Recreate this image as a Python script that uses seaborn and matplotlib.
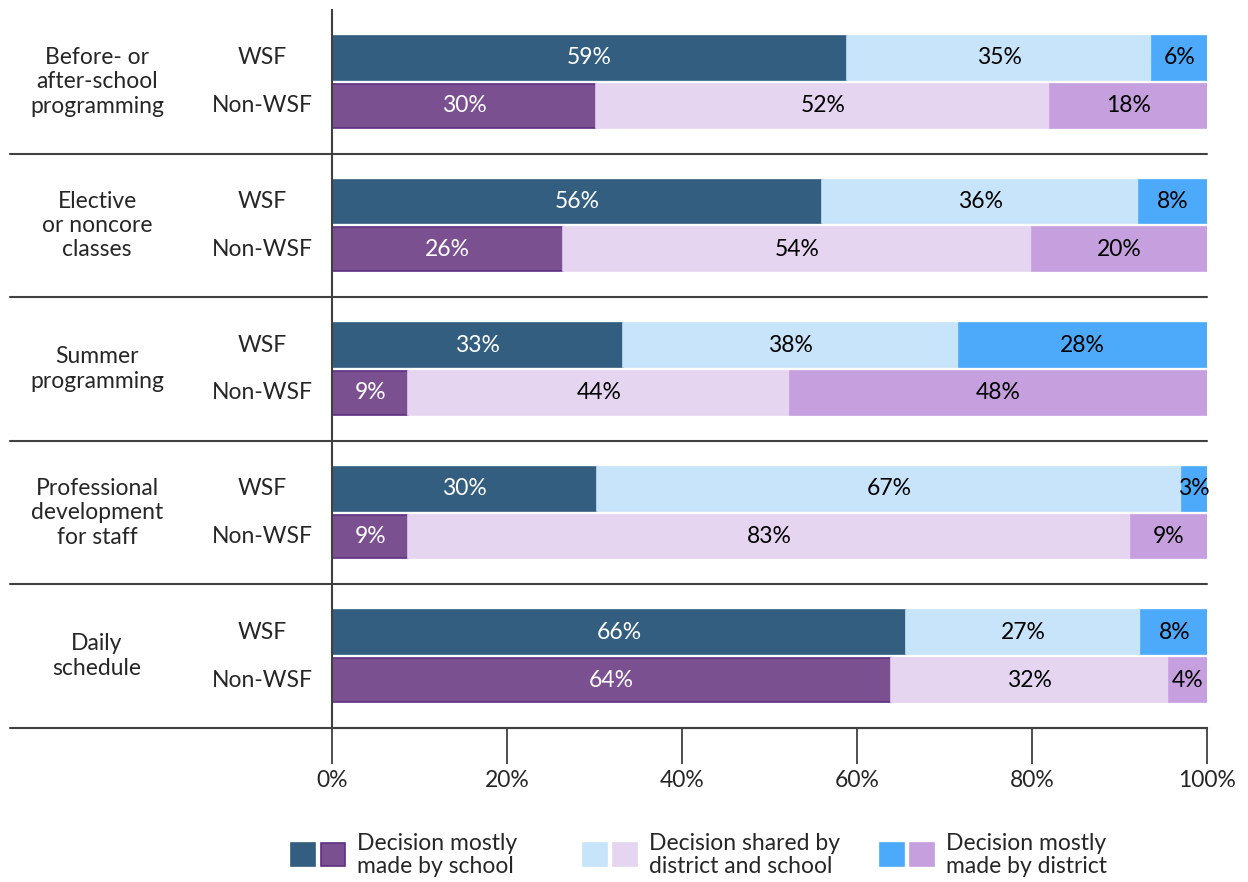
import numpy as np
import matplotlib
matplotlib.use("Agg")
import matplotlib.pyplot as plt
import matplotlib.transforms as mtransforms
from matplotlib.patches import Rectangle
import seaborn as sns

# data (percent of schools)
categories = ["Before- or\nafter-school\nprogramming",
              "Elective\nor noncore\nclasses",
              "Summer\nprogramming",
              "Professional\ndevelopment\nfor staff",
              "Daily\nschedule"]
groups = ["WSF", "Non-WSF"]
legend_labels = ["Decision mostly\nmade by school",
                 "Decision shared by\ndistrict and school",
                 "Decision mostly\nmade by district"]

wsf_school = [58.9, 56.0, 33.2, 30.3, 65.6]
wsf_shared = [34.8, 36.2, 38.4, 66.8, 26.9]
wsf_district = [6.3, 7.8, 28.4, 2.9, 7.5]

non_school = [30.2, 26.4, 8.7, 8.7, 63.9]
non_shared = [51.8, 53.6, 43.6, 82.6, 31.7]
non_district = [18.0, 20.0, 47.7, 8.7, 4.4]

xticks = [0, 20, 40, 60, 80, 100]

# styles
wsf_colors = ["#335e80", "#c8e4fa", "#4daafa"]
non_colors = ["#7a5091", "#e5d5f0", "#c6a0de"]
non_edges = ["#5e2f82", "#e5d5f0", "#c6a0de"]
wsf_text = ["white", "black", "black"]
non_text = ["white", "black", "black"]

sns.set_style("white")
plt.rcParams["font.family"] = ["Lato", "DejaVu Sans"]
FS = 16.5

fig = plt.figure(figsize=(12.48, 8.82), dpi=100)
ax = fig.add_axes([332 / 1248, 1 - 728 / 882, 875 / 1248, 718 / 882])

n = len(categories)
bar_h = 0.305
series = [
    (1 / 3, [wsf_school, wsf_shared, wsf_district], wsf_colors, wsf_colors, wsf_text),
    (2 / 3, [non_school, non_shared, non_district], non_colors, non_edges, non_text),
]

for off, segs, cols, edges, tcols in series:
    y = np.arange(n) + off
    left = np.zeros(n)
    for vals, c, e, tc in zip(segs, cols, edges, tcols):
        vals = np.array(vals)
        ax.barh(y, vals, left=left, height=bar_h, color=c, edgecolor=e,
                linewidth=1.2)
        for yi, li, vi in zip(y, left, vals):
            ax.text(li + vi / 2, yi, f"{vi:.0f}%", ha="center", va="center",
                    color=tc, fontsize=FS)
        left = left + vals

ax.set_xlim(0, 100)
ax.set_ylim(n, 0)
ax.set_yticks([])
ax.set_xticks(xticks)
ax.set_xticklabels([f"{t}%" for t in xticks], fontsize=FS)
ax.tick_params(axis="x", bottom=True, direction="out", length=26, width=1.3,
               color="#404040", pad=4)

for s in ["top", "right"]:
    ax.spines[s].set_visible(False)
ax.spines["left"].set_color("#404040")
ax.spines["left"].set_linewidth(1.5)
ax.spines["bottom"].set_color("#404040")
ax.spines["bottom"].set_linewidth(1.5)

# separator lines across labels and plot
trans = mtransforms.blended_transform_factory(fig.transFigure, ax.transData)
x_left = 10 / 1248
x_right = 1207 / 1248
for g in range(1, n + 1):
    ax.plot([x_left, x_right], [g, g], transform=trans, color="#404040",
            linewidth=1.5, clip_on=False)

# row labels
for i, cat in enumerate(categories):
    ax.text(97 / 1248, i + 0.5, cat, transform=trans, ha="center",
            va="center", fontsize=FS, linespacing=1.2)
    for j, gname in enumerate(groups):
        ax.text(262 / 1248, i + (j + 1) / 3, gname, transform=trans,
                ha="center", va="center", fontsize=FS)

# legend
leg_x = [291, 583, 880]
sq_w, sq_h, gap = 24, 23, 6
for k, lab in enumerate(legend_labels):
    x0 = leg_x[k]
    for m, col in enumerate([wsf_colors[k], non_colors[k]]):
        ec = non_edges[0] if (k == 0 and m == 1) else col
        fig.patches.append(Rectangle(((x0 + m * (sq_w + gap)) / 1248, 1 - 866 / 882),
                                     sq_w / 1248, sq_h / 882,
                                     transform=fig.transFigure,
                                     facecolor=col, edgecolor=ec, linewidth=1.2))
    fig.text((x0 + 2 * sq_w + gap + 12) / 1248, 1 - 855 / 882, lab,
             ha="left", va="center", fontsize=FS, linespacing=1.15)

fig.savefig("out.png", dpi=100)
